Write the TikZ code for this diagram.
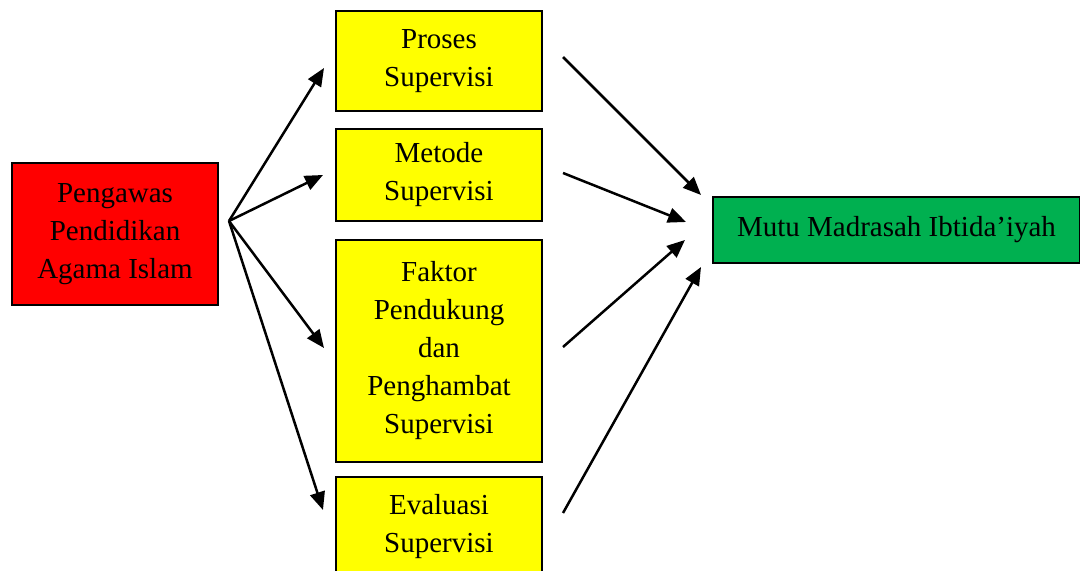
\documentclass[tikz,border=0pt]{standalone}
\usepackage{fontspec}
\setmainfont{Liberation Serif}
\usetikzlibrary{arrows.meta, positioning}

\begin{document}
\begin{tikzpicture}[x=0.5pt, y=-0.5pt,
    box/.style={draw=black, line width=1pt, minimum width=\boxwidth, inner sep=0pt,
        align=center, font=\fontsize{14.5}{19}\selectfont},
    arr/.style={-{Triangle[length=9pt, width=7.5pt]}, line width=1.25pt}]
    % Define colors
    \definecolor{pegcolor}{RGB}{255,0,0}
    \definecolor{supcolor}{RGB}{255,255,0}
    \definecolor{mutucolor}{RGB}{0,176,80}

    % Define dimensions
    \def\boxwidth{103pt}
    \def\supx{439}

    \useasboundingbox (0,0) rectangle (1080,571);

    % Source box (left)
    \node[box, fill=pegcolor, minimum height=71pt] (peg) at (115,234) {Pengawas\\Pendidikan\\Agama Islam};

    % Supervision boxes (middle)
    \node[box, fill=supcolor, minimum height=50pt] (proses) at (\supx,61) {Proses\\Supervisi};
    \node[box, fill=supcolor, minimum height=46pt] (metode) at (\supx,175) {Metode\\Supervisi};
    \node[box, fill=supcolor, minimum height=111pt] (faktor) at (\supx,351) {Faktor\\Pendukung\\dan\\Penghambat\\Supervisi};
    \node[box, fill=supcolor, minimum height=50pt] (evaluasi) at (\supx,527) {Evaluasi\\Supervisi};

    % Result box (right)
    \node[box, fill=mutucolor, minimum width=183.5pt, minimum height=33pt] (mutu) at (896.5,230) {Mutu Madrasah Ibtida’iyah};

    % Fan of arrows from the left box
    \coordinate (fan) at ([xshift=5pt, yshift=6.5pt]peg.east);
    \draw[arr] (fan) -- ([xshift=-5.5pt, yshift=-3.5pt]proses.west);
    \draw[arr] (fan) -- ([xshift=-6pt]metode.west);
    \draw[arr] (fan) -- ([xshift=-5.5pt, yshift=1.5pt]faktor.west);
    \draw[arr] (fan) -- ([xshift=-6pt, yshift=8.5pt]evaluasi.west);

    % Arrows into the result box
    \draw[arr] ([xshift=10pt, yshift=2pt]proses.east) -- ([xshift=-5.5pt, yshift=0.5pt]mutu.north west);
    \draw[arr] ([xshift=10pt, yshift=1pt]metode.east) -- ([xshift=-13pt, yshift=4pt]mutu.west);
    \draw[arr] ([xshift=10pt, yshift=2pt]faktor.east) -- ([xshift=-13.5pt, yshift=-5pt]mutu.west);
    \draw[arr] ([xshift=10pt, yshift=7pt]evaluasi.east) -- ([xshift=-5.5pt, yshift=-1.5pt]mutu.south west);

\end{tikzpicture}
\end{document}
